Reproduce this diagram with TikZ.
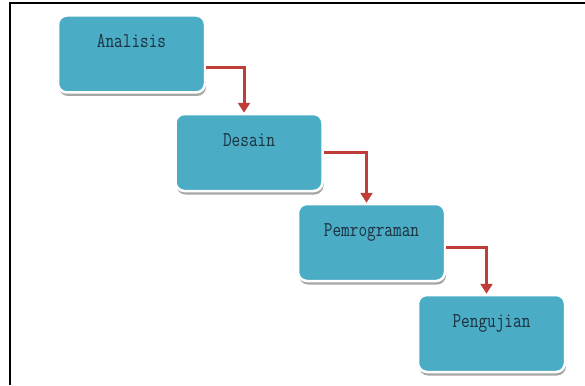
\documentclass[tikz,border=0pt]{standalone}
\usepackage{fontspec}
\newfontfamily\phasefont[FakeStretch=0.8]{Latin Modern Mono}
\usetikzlibrary{positioning, shadows, arrows.meta}
\definecolor{boxblue}{RGB}{75,172,198}
\definecolor{arrowred}{RGB}{192,62,58}
\definecolor{labeltext}{RGB}{28,48,62}

\begin{document}
\begin{tikzpicture}[x=1pt,y=1pt,on grid,
   phase/.style={rectangle, rounded corners=9pt, fill=boxblue, draw=white,
     line width=2.5pt, minimum width=147pt, inner sep=0pt,
     text height=32pt, text depth=45pt, text=labeltext,
     font=\fontsize{21}{24}\phasefont,
     drop shadow={shadow xshift=1pt, shadow yshift=-3.5pt, fill=black, opacity=0.35}},
   flow/.style={-{Triangle[width=12pt,length=10pt]}, arrowred, line width=3pt}]
   \useasboundingbox (0,0) rectangle (585,-385);
   % frame
   \draw[line width=2pt] (9.5,-385) -- (9.5,-3.5) -- (585,-3.5);
   % phases
   \node[phase] (analisis) at (131.5,-54) {Analisis};
   \node[phase] (desain) [below right=98.5pt and 117.5pt of analisis] {Desain};
   \node[phase] (pemrograman) [below right=90pt and 122.5pt of desain] {Pemrograman};
   \node[phase] (pengujian) [below right=91pt and 120pt of pemrograman] {Pengujian};
   % arrows
   \draw[flow] ([yshift=-14pt]analisis.east) -| ([xshift=-5pt]desain.north);
   \draw[flow] (desain.east) -| ([xshift=-5pt]pemrograman.north);
   \draw[flow] ([yshift=-5pt]pemrograman.east) -| ([xshift=-5pt]pengujian.north);
\end{tikzpicture}
\end{document}
